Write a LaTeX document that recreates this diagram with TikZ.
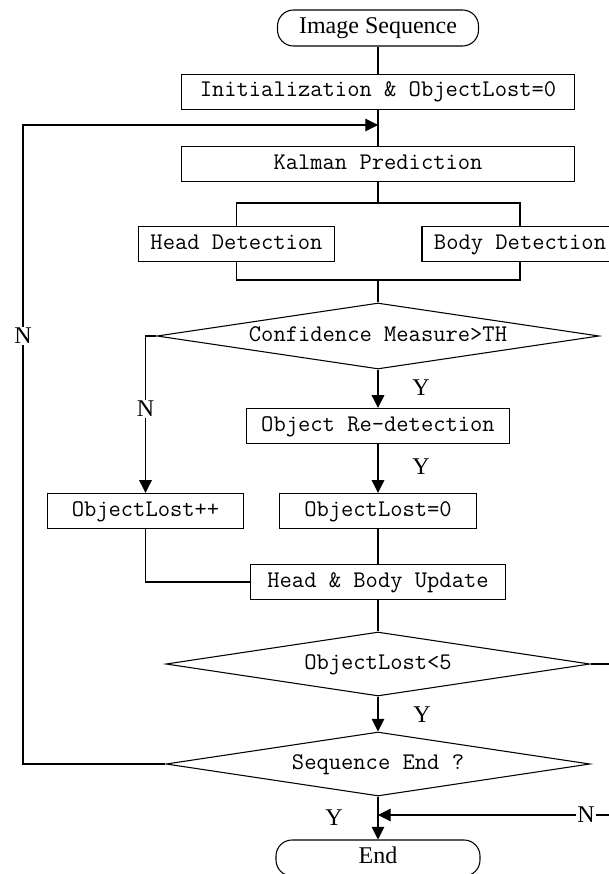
\documentclass[tikz,border=0pt]{standalone}
\usepackage{fontspec}
\setmainfont{Liberation Serif}
\usetikzlibrary{arrows.meta,shapes.geometric}

\begin{document}
\begin{tikzpicture}[
 x=0.75pt, y=-0.75pt,
 procbox/.style={draw, line width=0.8pt, minimum height=26.5pt, inner sep=0pt, text height=11pt, text depth=3.5pt, align=center, font=\fontsize{17.9}{20}\ttfamily},
 term/.style={draw, line width=0.8pt, rounded corners=12pt, minimum height=27pt, inner sep=0pt, text height=11.5pt, text depth=3.5pt, font=\fontsize{18}{20}\selectfont},
 decide/.style={draw, diamond, aspect=6.6, line width=0.8pt, inner sep=0pt, text height=11pt, text depth=3.5pt, font=\fontsize{17.9}{20}\ttfamily},
 flow/.style={line width=0.8pt},
 arr/.style={flow, -{Triangle[length=9.5pt, width=9.5pt]}},
 lbl/.style={font=\fontsize{18}{20}\selectfont, inner sep=1pt},
]
\useasboundingbox (0,0) rectangle (609,874);
\clip (0,0) rectangle (609,874);

\node[term, minimum width=150.75pt]              (start)    at (378,28)    {Image Sequence};
\node[procbox, minimum width=294.75pt]           (init)     at (378,92)    {Initialization \& ObjectLost=0};
\node[procbox, minimum width=294.75pt]           (kalman)   at (378,164)   {Kalman Prediction};
\node[procbox, minimum width=147pt]              (head)     at (236.5,244) {Head Detection};
\node[procbox, minimum width=147pt]              (body)     at (520,244)   {Body Detection};
\node[decide, minimum width=331.5pt, minimum height=49.5pt] (conf) at (378,336) {Confidence Measure>TH};
\node[procbox, minimum width=197.25pt]           (redet)    at (378,426)   {Object Re-detection};
\node[procbox, minimum width=147pt]              (lostinc)  at (145.5,511) {ObjectLost++};
\node[procbox, minimum width=147.75pt]           (lostzero) at (378,511)   {ObjectLost=0};
\node[procbox, minimum width=191.25pt]           (update)   at (378,582)   {Head \& Body Update};
\node[decide, minimum width=318pt, minimum height=48pt] (lt5)    at (378,664) {ObjectLost<5};
\node[decide, minimum width=318pt, minimum height=48pt] (seqend) at (378,764) {Sequence End ?};
\node[term, minimum width=153pt]                 (end)      at (378,858)   {End};

\coordinate (loopin)  at (378,125);
\coordinate (loopcor) at (23,125);
\coordinate (split)   at (378,203);
\coordinate (merge)   at (378,280);
\coordinate (rtop)    at (615,664);
\coordinate (rbot)    at (615,815);
\coordinate (njoin)   at (378,815);

\draw[flow] (start) -- (init);
\draw[flow] (init) -- (kalman);
\draw[flow] (kalman) -- (split);
\draw[flow] (head.north) |- (split) -| (body.north);
\draw[flow] (head.south) |- (merge) -| (body.south);
\draw[flow] (merge) -- (conf.north);
\draw[arr] (conf.south) -- (redet.north);
\draw[arr] (conf.west) -| (lostinc.north);
\draw[arr] (redet) -- (lostzero);
\draw[flow] (lostzero) -- (update);
\draw[flow] (lostinc.south) |- (update.west);
\draw[flow] (update) -- (lt5.north);
\draw[arr] (lt5.south) -- (seqend.north);
\draw[arr] (seqend.south) -- (end.north);
\draw[arr] (seqend.west) -| (loopcor) -- (loopin);
\draw[flow] (lt5.east) -- (rtop) -- (rbot);
\draw[arr] (rbot) -- (njoin);

\node[lbl]             (yconf)  at (421,388)   {Y};
\node[lbl]             (yredet) at (421,467)   {Y};
\node[lbl]             (ylt5)   at (422,715)   {Y};
\node[lbl]             (yend)   at (334,818)   {Y};
\node[lbl, fill=white] (nconf)  at (145.5,409) {N};
\node[lbl, fill=white] (nloop)  at (23,336)    {N};
\node[lbl, fill=white] (nlt5)   at (586,815)   {N};
\end{tikzpicture}
\end{document}
